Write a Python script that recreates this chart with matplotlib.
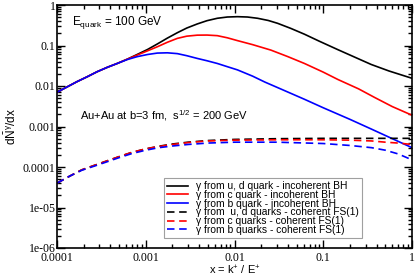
import numpy as np
import matplotlib
matplotlib.use("Agg")
import matplotlib.pyplot as plt
from matplotlib.ticker import LogLocator, FixedFormatter, NullFormatter

# incoherent Bethe-Heitler spectra (solid)
x_bh_ud = [1e-4, 1.3e-4, 1.68e-4, 2.2e-4, 2.83e-4, 3.7e-4, 4.77e-4, 6.2e-4,
           8e-4, 1.05e-3, 1.35e-3, 1.75e-3, 2.27e-3, 2.9e-3, 3.8e-3, 4.9e-3,
           6.4e-3, 8.3e-3, 0.0108, 0.014, 0.0182, 0.024, 0.0306, 0.043,
           0.0614, 0.09, 0.146, 0.22, 0.347, 0.55, 1.0]
y_bh_ud = [0.0070, 0.0095, 0.0128, 0.017, 0.0225, 0.029, 0.036, 0.046,
           0.060, 0.080, 0.109, 0.152, 0.207, 0.27, 0.34, 0.41,
           0.47, 0.505, 0.515, 0.505, 0.47, 0.415, 0.353, 0.265,
           0.19, 0.128, 0.079, 0.053, 0.034, 0.0235, 0.0155]

x_bh_c = [1e-4, 1.3e-4, 1.68e-4, 2.2e-4, 2.83e-4, 3.7e-4, 4.77e-4, 6.2e-4,
          8e-4, 1.05e-3, 1.35e-3, 1.75e-3, 2.27e-3, 2.9e-3, 3.8e-3, 4.9e-3,
          6.4e-3, 8.3e-3, 0.0108, 0.016, 0.0257, 0.04, 0.0614, 0.1, 0.146,
          0.25, 0.38, 0.6, 1.0]
y_bh_c = [0.0070, 0.0095, 0.0128, 0.017, 0.0225, 0.029, 0.036, 0.046,
          0.058, 0.074, 0.093, 0.120, 0.150, 0.170, 0.180, 0.181,
          0.175, 0.155, 0.132, 0.105, 0.077, 0.053, 0.036, 0.022, 0.0145,
          0.0085, 0.0052, 0.0031, 0.0019]

x_bh_b = [1e-4, 1.3e-4, 1.68e-4, 2.2e-4, 2.83e-4, 3.7e-4, 4.77e-4, 6.2e-4,
          8e-4, 1.05e-3, 1.35e-3, 1.75e-3, 2.27e-3, 2.9e-3, 3.8e-3, 4.9e-3,
          6.4e-3, 8.3e-3, 0.0108, 0.016, 0.022, 0.033, 0.0614, 0.1, 0.2,
          0.35, 0.6, 1.0]
y_bh_b = [0.0070, 0.0095, 0.0128, 0.017, 0.0225, 0.029, 0.036, 0.045,
          0.053, 0.060, 0.065, 0.066, 0.063, 0.056, 0.048, 0.042,
          0.036, 0.030, 0.025, 0.0175, 0.0125, 0.0085, 0.0047, 0.0029, 0.0015,
          8.6e-4, 5.0e-4, 3.0e-4]

# coherent FS(1) spectra (dashed)
x_fs = [1e-4, 1.4e-4, 1.9e-4, 2.8e-4, 5e-4, 7e-4, 1e-3, 1.4e-3, 2e-3, 3e-3,
        5e-3, 0.01, 0.03, 0.1, 0.2, 0.35, 0.5, 0.7, 1.0]
y_fs_ud = [4e-5, 6e-5, 8.5e-5, 1.15e-4, 1.8e-4, 2.3e-4, 2.8e-4, 3.25e-4,
           3.7e-4, 4.1e-4, 4.5e-4, 4.8e-4, 5.0e-4, 5.1e-4, 5.1e-4, 5.1e-4,
           5.1e-4, 5.1e-4, 5.1e-4]
y_fs_c = [4e-5, 6e-5, 8.5e-5, 1.15e-4, 1.8e-4, 2.3e-4, 2.8e-4, 3.2e-4,
          3.6e-4, 4.0e-4, 4.4e-4, 4.6e-4, 4.7e-4, 4.7e-4, 4.6e-4, 4.4e-4,
          4.1e-4, 3.9e-4, 3.6e-4]
y_fs_b = [4e-5, 6e-5, 8.3e-5, 1.1e-4, 1.7e-4, 2.15e-4, 2.6e-4, 3.0e-4,
          3.3e-4, 3.6e-4, 3.9e-4, 4.1e-4, 4.1e-4, 3.8e-4, 3.4e-4, 3.0e-4,
          2.6e-4, 2.1e-4, 1.5e-4]

labels = [
    "\u03b3 from u, d quark - incoherent BH",
    "\u03b3 from c quark - incoherent BH",
    "\u03b3 from b quark - incoherent BH",
    "\u03b3 from  u, d quarks - coherent FS(1)",
    "\u03b3 from c quarks - coherent FS(1)",
    "\u03b3 from b quarks - coherent FS(1)",
]
colors = ["black", "#ff0000", "#0000ff"]

xticks = [1e-4, 1e-3, 1e-2, 1e-1, 1]
xtick_labels = ["0.0001", "0.001", "0.01", "0.1", "1"]
yticks = [1e-6, 1e-5, 1e-4, 1e-3, 1e-2, 1e-1, 1]
ytick_labels = ["1e-06", "1e-05", "0.0001", "0.001", "0.01", "0.1", "1"]

plt.rcParams["font.family"] = ["Liberation Sans", "DejaVu Sans"]
plt.rcParams["mathtext.fontset"] = "custom"
plt.rcParams["mathtext.rm"] = "Liberation Sans"
plt.rcParams["mathtext.it"] = "Liberation Sans"

fig = plt.figure(figsize=(4.15, 2.77), dpi=100)
ax = fig.add_axes([57 / 415, 1 - 248 / 277, 355 / 415, 243 / 277])

lw = 1.2
dash = (0, (4.5, 2.8))
ax.plot(x_bh_ud, y_bh_ud, color=colors[0], lw=lw, label=labels[0])
ax.plot(x_bh_c, y_bh_c, color=colors[1], lw=lw, label=labels[1])
ax.plot(x_bh_b, y_bh_b, color=colors[2], lw=lw, label=labels[2])
ax.plot(x_fs, y_fs_ud, color=colors[0], lw=lw, ls=dash, label=labels[3])
ax.plot(x_fs, y_fs_c, color=colors[1], lw=lw, ls=dash, label=labels[4])
ax.plot(x_fs, y_fs_b, color=colors[2], lw=lw, ls=dash, label=labels[5])

ax.set_xscale("log")
ax.set_yscale("log")
ax.set_xlim(1e-4, 1)
ax.set_ylim(1e-6, 1)

ax.set_xticks(xticks)
ax.xaxis.set_major_formatter(FixedFormatter(xtick_labels))
ax.set_yticks(yticks)
ax.yaxis.set_major_formatter(FixedFormatter(ytick_labels))
ax.xaxis.set_minor_locator(LogLocator(base=10, subs=np.arange(2, 10), numticks=20))
ax.yaxis.set_minor_locator(LogLocator(base=10, subs=np.arange(2, 10), numticks=20))
ax.xaxis.set_minor_formatter(NullFormatter())
ax.yaxis.set_minor_formatter(NullFormatter())
ax.tick_params(which="both", direction="in", top=True, right=True, width=1.0)
ax.tick_params(which="major", length=6)
ax.tick_params(which="minor", length=3)
for lab in ax.get_xticklabels() + ax.get_yticklabels():
    lab.set_family("Liberation Serif")
    lab.set_fontsize(8.5)
ax.tick_params(axis="x", pad=3)
ax.tick_params(axis="y", pad=1)
for sp in ax.spines.values():
    sp.set_linewidth(1.2)

ax.set_xlabel("x = k$^{+}$ / E$^{+}$", fontsize=8, labelpad=0)
ax.set_ylabel(r"d$\bar{\mathrm{N}}^{\gamma}$/dx", fontsize=8.5)
ax.yaxis.set_label_coords(-0.108, 0.5)

ax.text(0.042, 0.93, "E$_{\\mathrm{quark}}$ = 100 GeV", transform=ax.transAxes,
        fontsize=8.5, va="center", ha="left")
ax.text(0.065, 0.545, "Au+Au at b=3 fm,  s$^{1/2}$ = 200 GeV",
        transform=ax.transAxes, fontsize=8, va="center", ha="left")

leg = ax.legend(loc="lower left", bbox_to_anchor=(0.302, 0.041), fontsize=7.4,
                frameon=True, fancybox=False, edgecolor="#888888",
                handlelength=2.0, handletextpad=0.8, labelspacing=-0.12,
                borderpad=0.3, borderaxespad=0)
leg.get_frame().set_linewidth(0.8)

fig.savefig("out.png", dpi=100)
